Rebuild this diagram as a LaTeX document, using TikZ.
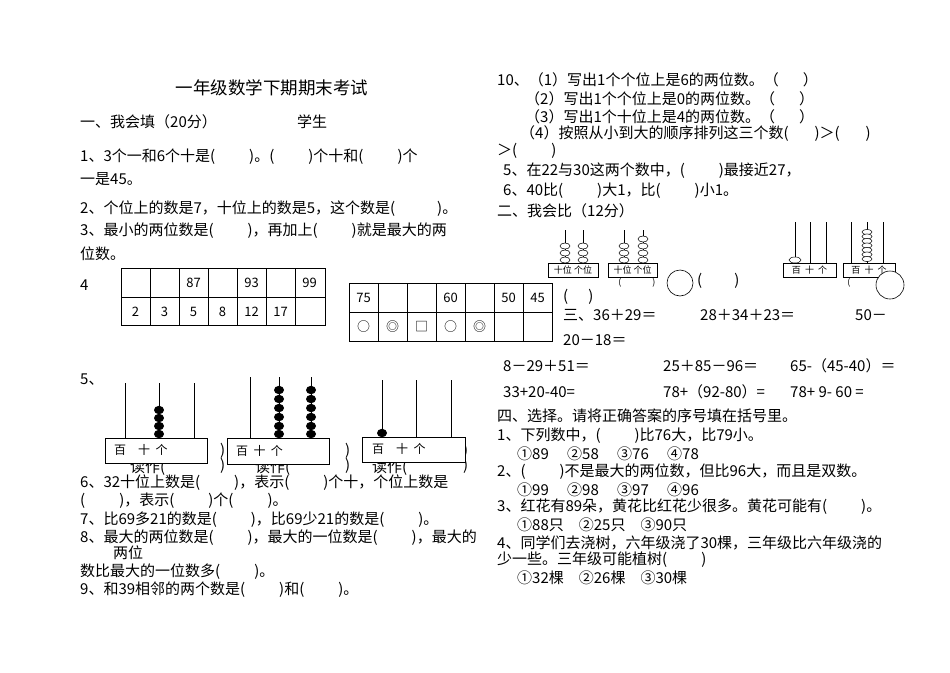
\documentclass[tikz,border=0pt]{standalone}
\usepackage{fontspec}
\setmainfont{Noto Sans CJK SC}
\newcommand\pp{(\hspace{34pt})}
\newcommand\ppw{(\hspace{42pt})}
\begin{document}
\begin{tikzpicture}[x=1pt,y=-1pt,
  t/.style={anchor=west,inner sep=0pt,font=\fontsize{15}{16}\selectfont},
  sm/.style={anchor=center,inner sep=0pt,font=\fontsize{9}{10}\selectfont},
  cell/.style={anchor=center,inner sep=0pt,font=\fontsize{13}{14}\selectfont},
  bead/.style={fill=black},
  hbead/.style={draw=black,fill=white,line width=0.5pt},
  rod/.style={line width=0.7pt},
  frame/.style={draw,fill=white,line width=0.8pt}]
\useasboundingbox[fill=white] (0,0) rectangle (950,672);
% title
\node[anchor=center,font=\fontsize{17.5}{18}\selectfont] (title) at (272,88) {一年级数学下期期末考试};
% left column
\node[t] (l1) at (80,122) {一、我会填（20分）};
\node[t] (l1b) at (297,122) {学生};
\node[t] (l2) at (80,157) {1、3个一和6个十是\pp。\pp 个十和\pp 个};
\node[t] (l3) at (80,179) {一是45。};
\node[t] (l4) at (80,209) {2、个位上的数是7，十位上的数是5，这个数是\ppw。};
\node[t] (l5) at (80,231) {3、最小的两位数是\pp，再加上\pp 就是最大的两};
\node[t] (l6) at (80,254) {位数。};
\node[t] (l7) at (80,285) {4};
% table 1
\draw[line width=0.6pt] (121,268) rectangle (325,325);
\draw[line width=0.6pt] (121,297) -- (325,297);
\foreach \x in {150,179,208,237,266,295} \draw[line width=0.6pt] (\x,268) -- (\x,325);
\foreach \x/\v in {193.5/87,251.5/93,309.5/99} \node[cell] at (\x,283) {\v};
\foreach \x/\v in {135.5/2,164.5/3,193.5/5,222.5/8,251.5/12,280.5/17} \node[cell] at (\x,312) {\v};
% table 2
\draw[line width=0.6pt] (349,283) rectangle (552,341);
\draw[line width=0.6pt] (349,312) -- (552,312);
\foreach \x in {378,407,436,465,494,523} \draw[line width=0.6pt] (\x,283) -- (\x,341);
\foreach \x/\v in {363.5/75,450.5/60,508.5/50,537.5/45} \node[cell] at (\x,298) {\v};
\foreach \x/\v in {363.5/○,392.5/◎,421.5/□,450.5/○,479.5/◎} \node[cell] at (\x,327) {\v};
% question 5
\node[t] (l8) at (80,380) {5、};
% hidden text behind frames
\node[t] at (130,468) {读作(};
\node[t] at (255,468) {读作(};
\node[t] at (372,468) {读作(};
\node[t] at (220,451) {)};\node[t] at (220,466) {)};
\node[t] at (345,451) {)};\node[t] at (345,466) {)};
\node[t] at (463,451) {)};\node[t] at (463,466) {)};
% abacus 1
\foreach \x in {125,159,194} \draw[rod] (\x,383) -- (\x,438);
\foreach \y in {410,418,426,434} \fill[bead] (159,\y) ellipse (5 and 4.2);
\draw[frame] (105,438) rectangle (207,463);
\node[t,font=\fontsize{12}{13}\selectfont] at (114,450) {百\quad 十\ \ 个};
% abacus 2
\foreach \x in {250,279,311} \draw[rod] (\x,377) -- (\x,438);
\foreach \x in {279,311}{\foreach \y in {390,399,408,417,426,434} \fill[bead] (\x,\y) ellipse (5 and 4.2);}
\draw[frame] (227,438) rectangle (329,464);
\node[t,font=\fontsize{12}{13}\selectfont] at (236,451) {百\ \ 十\ \ 个};
% abacus 3
\foreach \x in {382,416,451} \draw[rod] (\x,380) -- (\x,437);
\fill[bead] (382,433) ellipse (5 and 4.2);
\draw[frame] (362,437) rectangle (465,462);
\node[t,font=\fontsize{12}{13}\selectfont] at (372,449) {百\quad 十\ \ 个};
\node[t] (l9) at (80,483) {6、32十位上数是\pp，表示\pp 个十，个位上数是};
\node[t] (l10) at (80,501) {\pp，表示\pp 个\pp。};
\node[t] (l11) at (80,520) {7、比69多21的数是\pp，比69少21的数是\pp。};
\node[t] (l12) at (80,538) {8、最大的两位数是\pp，最大的一位数是\pp，最大的};
\node[t] (l13) at (113,553) {两位};
\node[t] (l14) at (80,572) {数比最大的一位数多\pp。};
\node[t] (l15) at (80,590) {9、和39相邻的两个数是\pp 和\pp。};
% right column
\node[t] (r1) at (497,80) {10、（1）写出1个个位上是6的两位数。（\hspace{24pt}）};
\node[t] (r2) at (525,99) {（2）写出1个个位上是0的两位数。（\hspace{24pt}）};
\node[t] (r3) at (525,117) {（3）写出1个十位上是4的两位数。（\hspace{24pt}）};
\node[t] (r4) at (520,134) {（4）按照从小到大的顺序排列这三个数(\hspace{26pt})＞(\hspace{26pt})};
\node[t] (r5) at (497,151) {＞\pp};
\node[t] (r6) at (503,171) {5、在22与30这两个数中，\pp 最接近27，};
\node[t] (r7) at (503,191) {6、40比\pp 大1，比\pp 小1。};
\node[t] (r8) at (497,211) {二、我会比（12分）};
% small abaci
\foreach \x in {565,583,624,643} \draw[rod] (\x,230) -- (\x,263);
\foreach \y in {246,253,260} {\draw[hbead] (565,\y) ellipse (5 and 3); \draw[hbead] (583,\y) ellipse (5 and 3); \draw[hbead] (624,\y) ellipse (5 and 3);}
\foreach \y in {239,246,253,260} \draw[hbead] (643,\y) ellipse (5 and 3);
\draw[frame] (548,263) rectangle (598,277); \node[sm] at (573,270) {十位 个位};
\draw[frame] (608,263) rectangle (657,277); \node[sm] at (632.5,270) {十位 个位};
\node[sm] at (620,283) {(};\node[sm] at (654,283) {)};
\draw[line width=0.6pt] (680,283) circle (13);
\node[t] (r9) at (697,281) {(\hspace{32pt})};
\foreach \x in {795,810,826,851,883} \draw[rod] (\x,222) -- (\x,263);
\draw[rod] (867,222) -- (867,263);
\draw[hbead] (795,260) ellipse (6 and 3);
\foreach \y in {232,236.5,241,245.5,250,254.5,259} \draw[hbead] (867,\y) ellipse (5 and 2.6);
\draw[frame] (783,263) rectangle (836,277); \node[sm] at (809.5,270) {百\ \ 十\ \ 个};
\draw[frame] (843,263) rectangle (895,277); \node[sm] at (869,270) {百\ \ 十\ \ 个};
\node[sm] at (849,283) {(};
\draw[line width=0.6pt,fill=white] (890,285) circle (14);
\node[t] (r10) at (563,297) {(\hspace{20pt})};
\node[t] (r11) at (563,315) {三、36＋29＝};
\node[t] (r12) at (700,315) {28＋34＋23＝};
\node[t] (r13) at (855,315) {50－};
\node[t] (r14) at (563,340) {20－18＝};
\node[t] (r15) at (503,366) {8－29＋51＝};
\node[t] (r16) at (663,366) {25＋85－96＝};
\node[t] (r17) at (790,366) {65-（45-40）＝};
\node[t] (r18) at (503,392) {33+20-40=};
\node[t] (r19) at (663,392) {78+（92-80）=};
\node[t] (r20) at (790,392) {78+ 9- 60 =};
\node[t] (r21) at (497,416) {四、选择。请将正确答案的序号填在括号里。};
\node[t] (r22) at (497,436) {1、下列数中，\pp 比76大，比79小。};
\node[t] (r23) at (517,454) {①89\quad\ ②58\quad\ ③76\quad\ ④78};
\node[t] (r24) at (497,472) {2、\pp 不是最大的两位数，但比96大，而且是双数。};
\node[t] (r25) at (517,490) {①99\quad\ ②98\quad\ ③97\quad\ ④96};
\node[t] (r26) at (497,507) {3、红花有89朵，黄花比红花少很多。黄花可能有\pp。};
\node[t] (r27) at (517,525) {①88只\quad ②25只\quad ③90只};
\node[t] (r28) at (497,543) {4、同学们去浇树，六年级浇了30棵，三年级比六年级浇的};
\node[t] (r29) at (497,560) {少一些。三年级可能植树\pp};
\node[t] (r30) at (517,578) {①32棵\quad ②26棵\quad ③30棵};
\end{tikzpicture}
\end{document}
